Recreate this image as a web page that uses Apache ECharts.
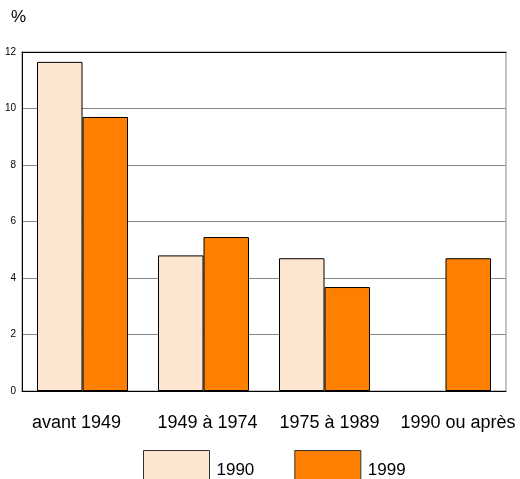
<!DOCTYPE html>
<html>
<head>
<meta charset="utf-8">
<script src="https://cdn.jsdelivr.net/npm/echarts@6/dist/echarts.min.js"></script>
<style>html,body{margin:0;padding:0;background:#fff;}#c{width:520px;height:479px;}</style>
</head>
<body>
<div id="c"></div>
<script>
const categories = ['avant 1949', '1949 à 1974', '1975 à 1989', '1990 ou après'];
const series1990 = [11.65, 4.8, 4.7, null];
const series1999 = [9.7, 5.45, 3.68, 4.7];
const yTicks = [0, 2, 4, 6, 8, 10, 12];

const chart = echarts.init(document.getElementById('c'), null, {renderer: 'canvas'});
const font = 'Liberation Sans, Arial, sans-serif';
const labelStyles = ['l0', 'l1', 'l2', 'l3'];
chart.setOption({
  animation: false,
  backgroundColor: '#fff',
  title: {text: '%', left: 11, top: 9, padding: 0, textStyle: {fontFamily: font, fontSize: 17, fontWeight: 'normal', color: '#000'}},
  grid: {left: 22, right: 14, top: 52, bottom: 88, show: true, borderColor: '#888', borderWidth: 1},
  legend: {
    top: 450, left: 143, padding: 0, itemWidth: 66, itemHeight: 40, itemGap: 40,
    icon: 'rect',
    itemStyle: {borderWidth: 1, borderColor: '#333'},
    textStyle: {fontFamily: font, fontSize: 17, color: '#000', padding: [0,0,0,2]},
    data: ['1990', '1999']
  },
  xAxis: [{
    type: 'category', data: categories,
    axisLine: {lineStyle: {color: '#000', width: 1}},
    axisTick: {show: false},
    axisLabel: {
      fontFamily: font, fontSize: 18, color: '#000', margin: 23, interval: 0,
      formatter: function (v, i) { return '{' + labelStyles[i] + '|' + v + '}'; },
      rich: {
        l0: {fontFamily: font, fontSize: 18, color: '#000', padding: [0, 12, 0, 0]},
        l1: {fontFamily: font, fontSize: 18, color: '#000', padding: [0, 0, 0, 8]},
        l2: {fontFamily: font, fontSize: 18, color: '#000', padding: [0, 0, 0, 10]},
        l3: {fontFamily: font, fontSize: 18, color: '#000', padding: [0, 0, 0, 25]}
      }
    }
  }, {
    type: 'category', data: categories, position: 'top',
    axisLine: {show: true, lineStyle: {color: '#000', width: 1}},
    axisTick: {show: false}, axisLabel: {show: false}
  }],
  yAxis: {
    type: 'value', min: 0, max: yTicks[yTicks.length-1], interval: 2,
    axisLine: {show: true, lineStyle: {color: '#000', width: 1}},
    axisTick: {show: false},
    axisLabel: {fontFamily: font, fontSize: 10, color: '#000', margin: 6},
    splitLine: {lineStyle: {color: '#888', width: 1}}
  },
  series: [{
    name: '1990', type: 'bar', data: series1990, barWidth: '37.6%', barGap: '0%',
    itemStyle: {color: '#FDE6CF', borderColor: '#000', borderWidth: 1}
  }, {
    name: '1999', type: 'bar', data: series1999, barWidth: '37.6%', barGap: '0%',
    itemStyle: {color: '#FF8000', borderColor: '#000', borderWidth: 1}
  }]
});
</script>
</body>
</html>
